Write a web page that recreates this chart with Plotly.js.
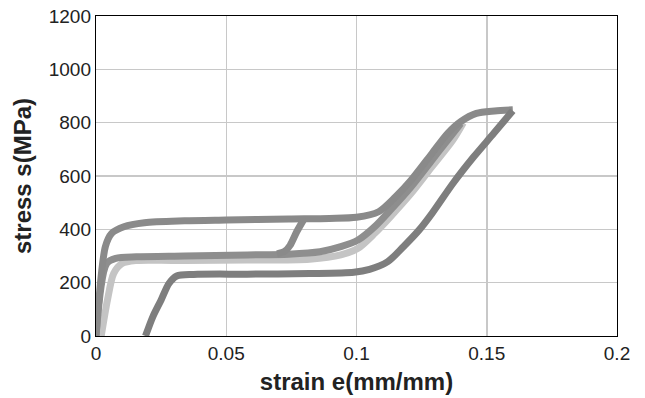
<!DOCTYPE html>
<html>
<head>
<meta charset="utf-8">
<script src="https://cdn.plot.ly/plotly-3.0.1.min.js"></script>
<style>html,body{margin:0;padding:0;background:#fff;}#chart{width:645px;height:398px;}</style>
</head>
<body>
<div id="chart"></div>
<script>
// Light gray loading curve
const lightStrain = [0.002, 0.0044, 0.0068, 0.010, 0.0155, 0.025, 0.034, 0.058, 0.082, 0.094, 0.1006, 0.107, 0.113, 0.121, 0.129, 0.137, 0.141];
const lightStress = [0, 135, 235, 272, 283, 284, 283, 285, 288, 304, 329, 385, 447, 535, 635, 735, 800];

// Middle curve
const midStrain = [0, 0.0041, 0.0076, 0.0155, 0.034, 0.058, 0.074, 0.086, 0.094, 0.1006, 0.107, 0.113, 0.121, 0.129, 0.135, 0.140];
const midStress = [0, 272, 291, 297, 300, 304, 307, 316, 335, 360, 410, 472, 560, 660, 735, 797];

// Upper loading curve
const upStrain = [0, 0.0036, 0.006, 0.0107, 0.0186, 0.034, 0.05, 0.074, 0.0896, 0.100, 0.1085, 0.115, 0.121, 0.129, 0.135, 0.140, 0.146, 0.153, 0.160];
const upStress = [0, 335, 385, 410, 425, 432, 435, 439, 441, 445, 466, 522, 585, 685, 760, 804, 835, 844, 848];

// Inner branch
const branchStrain = [0.0695, 0.0725, 0.0745, 0.0770, 0.0800];
const branchStress = [308, 318, 340, 390, 441];

// Unloading curve
const downStrain = [0.160, 0.1527, 0.145, 0.137, 0.129, 0.124, 0.118, 0.112, 0.105, 0.099, 0.082, 0.058, 0.0375, 0.031, 0.028, 0.025, 0.0218, 0.019];
const downStress = [845, 760, 672, 572, 460, 397, 335, 279, 250, 239, 234, 232, 231, 225, 197, 135, 72, 0];

const xTicks = [0, 0.05, 0.1, 0.15, 0.2];
const xTickText = ['0', '0.05', '0.1', '0.15', '0.2'];
const yTicks = [0, 200, 400, 600, 800, 1000, 1200];

function tr(x, y, color) {
  return {x: x, y: y, type: 'scatter', mode: 'lines',
    line: {color: color, width: 7, shape: 'spline', smoothing: 0.8},
    hoverinfo: 'skip', showlegend: false};
}

const data = [
  tr(lightStrain, lightStress, '#c4c4c4'),
  tr(midStrain, midStress, '#8e8e8e'),
  tr(upStrain, upStress, '#8a8a8a'),
  tr(branchStrain, branchStress, '#8a8a8a'),
  tr(downStrain, downStress, '#7e7e7e')
];

const font = {family: 'Liberation Sans, Arial, sans-serif', color: '#222'};
const layout = {
  width: 645, height: 398,
  margin: {l: 96, r: 28, t: 16, b: 62},
  paper_bgcolor: '#fff', plot_bgcolor: '#fff',
  font: font,
  xaxis: {
    range: [0, 0.2], tickvals: xTicks, ticktext: xTickText,
    showgrid: true, gridcolor: '#c8c8c8', gridwidth: 1.5,
    showline: true, linecolor: '#000', linewidth: 1.2, mirror: true,
    zeroline: false, ticks: '',
    tickfont: {family: font.family, size: 19, color: '#222'},
    title: {text: '<b>strain e(mm/mm)</b>', font: {family: font.family, size: 24, color: '#222'}, standoff: 10}
  },
  yaxis: {
    range: [0, 1200], tickvals: yTicks,
    showgrid: true, gridcolor: '#c8c8c8', gridwidth: 1.5,
    showline: true, linecolor: '#000', linewidth: 1.2, mirror: true,
    zeroline: false, ticks: '',
    tickfont: {family: font.family, size: 19, color: '#222'},
    title: {text: '<b>stress s(MPa)</b>', font: {family: font.family, size: 24, color: '#222'}, standoff: 10}
  }
};

Plotly.newPlot('chart', data, layout, {displayModeBar: false, staticPlot: true});
</script>
</body>
</html>
